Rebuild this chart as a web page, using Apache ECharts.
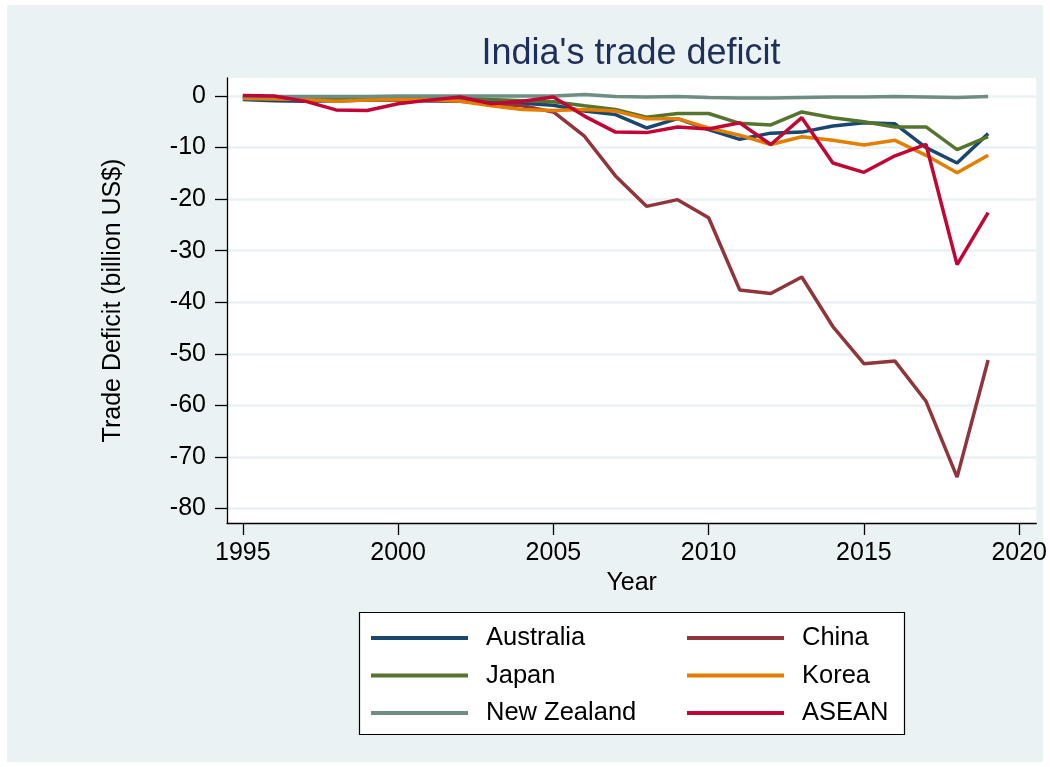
<!DOCTYPE html>
<html><head><meta charset="utf-8">
<script src="https://cdn.jsdelivr.net/npm/echarts@6/dist/echarts.min.js"></script>
<style>html,body{margin:0;padding:0;background:#fff}#c{width:1050px;height:767px}</style>
</head><body><div id="c"></div>
<script>
const years = [1995,1996,1997,1998,1999,2000,2001,2002,2003,2004,2005,2006,2007,2008,2009,2010,2011,2012,2013,2014,2015,2016,2017,2018,2019];
const australia = [-0.7,-0.9,-1.0,-0.9,-0.8,-0.8,-0.9,-0.9,-1.1,-1.4,-1.8,-2.9,-3.6,-6.2,-4.4,-6.5,-8.4,-7.2,-7.0,-5.8,-5.2,-5.4,-10.0,-13.0,-7.3];
const china = [-0.3,-0.4,-0.5,-0.9,-0.8,-0.7,-0.9,-1.0,-1.5,-1.9,-3.1,-7.8,-15.5,-21.4,-20.1,-23.6,-37.6,-38.3,-35.1,-44.7,-51.9,-51.4,-59.2,-73.9,-51.2];
const japan = [-0.2,-0.3,-0.3,-0.4,-0.5,-0.3,-0.4,-0.4,-0.7,-0.9,-1.1,-1.9,-2.6,-4.1,-3.4,-3.4,-5.3,-5.6,-3.1,-4.2,-5.0,-6.0,-6.0,-10.4,-7.9];
const korea = [-0.5,-0.6,-0.7,-1.0,-0.8,-0.7,-0.7,-1.0,-1.9,-2.6,-2.8,-2.6,-2.9,-4.4,-4.4,-6.2,-7.6,-9.4,-7.9,-8.6,-9.5,-8.6,-11.5,-14.9,-11.5];
const newZealand = [-0.1,-0.1,-0.1,-0.1,-0.1,0.0,0.0,0.0,0.0,0.0,0.0,0.3,-0.1,-0.2,-0.1,-0.3,-0.4,-0.4,-0.3,-0.2,-0.2,-0.1,-0.2,-0.3,-0.1];
const asean = [0.1,0.0,-1.0,-2.7,-2.8,-1.5,-0.8,-0.2,-1.5,-1.0,-0.2,-3.9,-7.0,-7.1,-6.0,-6.4,-5.2,-9.4,-4.2,-13.0,-14.8,-11.6,-9.4,-32.7,-22.6];
const xTicks = [1995,2000,2005,2010,2015,2020];
const yTicks = [-80,-70,-60,-50,-40,-30,-20,-10,0];
const seriesNames = ['Australia','China','Japan','Korea','New Zealand','ASEAN'];
const seriesColors = ['#1A476F','#90353B','#55752F','#E37E00','#6E8E84','#C10534'];

const FONT = '"Liberation Sans", Arial, sans-serif';
const seriesData = [australia, china, japan, korea, newZealand, asean];
const chart = echarts.init(document.getElementById('c'), null, {renderer: 'canvas'});

const legendCommon = {
  orient: 'vertical', top: 620, itemWidth: 97, itemHeight: 4, itemGap: 11.5, selectedMode: false, icon: 'rect',
  textStyle: {fontFamily: FONT, fontSize: 25.5, lineHeight: 26, color: '#000', padding: [0,0,0,13]}
};

chart.setOption({
  animation: false,
  backgroundColor: '#fff',
  textStyle: {fontFamily: FONT},
  graphic: [
    {type: 'rect', z: -100, silent: true, shape: {x: 7, y: 5, width: 1036, height: 757}, style: {fill: '#EAF2F3'}},
    {type: 'rect', z: 1, silent: true, shape: {x: 359.5, y: 612.5, width: 545, height: 122}, style: {fill: '#fff', stroke: '#000', lineWidth: 1.2}}
  ],
  title: {
    text: "India's trade deficit",
    left: 626, top: 31, textAlign: 'center',
    textStyle: {fontFamily: FONT, fontSize: 36, fontWeight: 'normal', color: '#1E2F5A'}
  },
  grid: {left: 227, right: 13, top: 78, bottom: 244, show: true, backgroundColor: '#fff', borderWidth: 0},
  xAxis: {
    type: 'value', min: 1994.49, max: 2020.55,
    name: 'Year', nameLocation: 'middle', nameGap: 45,
    nameTextStyle: {fontFamily: FONT, fontSize: 25, color: '#000'},
    axisLine: {show: true, onZero: false, lineStyle: {color: '#000', width: 1.3}},
    axisTick: {show: true, length: 12, customValues: xTicks, lineStyle: {color: '#000', width: 1.3}},
    axisLabel: {customValues: xTicks, margin: 18, fontSize: 25, fontFamily: FONT, color: '#000', formatter: v => String(v)},
    splitLine: {show: false}
  },
  yAxis: {
    type: 'value', min: -82.8, max: 3.49,
    name: 'Trade Deficit (billion US$)', nameLocation: 'middle', nameGap: 101,
    nameTextStyle: {fontFamily: FONT, fontSize: 25, color: '#000'},
    axisLine: {show: true, onZero: false, lineStyle: {color: '#000', width: 1.3}},
    axisTick: {show: true, length: 12, customValues: yTicks, lineStyle: {color: '#000', width: 1.3}},
    axisLabel: {customValues: yTicks, margin: 21, fontSize: 25, fontFamily: FONT, color: '#000'},
    splitLine: {show: true, lineStyle: {color: '#EAF2F3', width: 2.5}}
  },
  legend: [
    Object.assign({data: ['Australia','Japan','New Zealand'], left: 366}, legendCommon),
    Object.assign({data: ['China','Korea','ASEAN'], left: 682}, legendCommon)
  ],
  series: seriesNames.map((n, i) => ({
    name: n, type: 'line', symbol: 'none', silent: true,
    color: seriesColors[i],
    lineStyle: {width: 3.5, color: seriesColors[i]},
    data: years.map((y, j) => [y, seriesData[i][j]])
  }))
});
</script></body></html>
